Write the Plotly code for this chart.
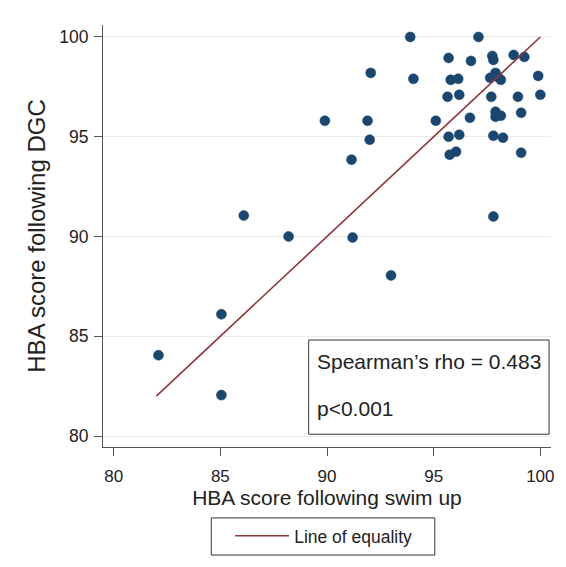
import plotly.graph_objects as go

# HBA scores (swim up, DGC)
swim_up = [93.9, 97.1, 95.7, 96.75, 97.75, 97.8, 98.75, 99.25, 92.05, 94.05,
           95.8, 96.15, 97.65, 97.9, 98.15, 98.0, 99.9, 100.0, 95.65, 96.2,
           97.7, 98.95, 89.9, 91.9, 92.0, 95.1, 96.7, 97.9, 97.9, 98.15,
           99.1, 95.7, 96.2, 97.8, 98.25, 91.15, 95.75, 96.05, 99.1, 86.1,
           97.8, 88.2, 91.2, 93.0, 85.05, 82.1, 85.05]
dgc = [100.0, 100.0, 98.95, 98.8, 99.05, 98.85, 99.1, 99.0, 98.2, 97.9,
       97.85, 97.9, 97.95, 98.2, 97.85, 98.0, 98.05, 97.1, 97.0, 97.1,
       97.0, 97.0, 95.8, 95.8, 94.85, 95.8, 95.95, 96.25, 96.0, 96.05,
       96.2, 95.0, 95.1, 95.05, 94.95, 93.85, 94.1, 94.25, 94.2, 91.05,
       91.0, 90.0, 89.95, 88.05, 86.1, 84.05, 82.05]

equality_x = [82, 100]
equality_y = [82, 100]

x_ticks = [80, 85, 90, 95, 100]
y_ticks = [80, 85, 90, 95, 100]

stats_text = ["Spearman\u2019s rho = 0.483", "p<0.001"]

FONT = "Liberation Sans, Arial, sans-serif"
NAVY = "#1a476f"
MAROON = "#90353b"

fig = go.Figure()
fig.add_trace(go.Scatter(
    x=swim_up, y=dgc, mode="markers",
    marker=dict(color=NAVY, size=10, line=dict(color=NAVY, width=0.5)),
    showlegend=False, hoverinfo="x+y"))
fig.add_trace(go.Scatter(
    x=equality_x, y=equality_y, mode="lines",
    line=dict(color=MAROON, width=1.6),
    name="Line of equality", showlegend=True))

fig.update_layout(
    width=566, height=567,
    margin=dict(l=103, r=12, t=25, b=120),
    paper_bgcolor="white", plot_bgcolor="white",
    font=dict(family=FONT, color="#222"),
    legend=dict(orientation="h", x=0.2838, xanchor="left",
                y=-0.168, yanchor="top",
                bgcolor="rgba(0,0,0,0)", borderwidth=0,
                font=dict(size=17.5, family=FONT, color="#222"),
                itemwidth=54),
)

fig.update_xaxes(
    range=[79.5, 100.5], tickvals=x_ticks,
    showgrid=False, zeroline=False,
    showline=True, linecolor="#555", linewidth=1,
    ticks="outside", ticklen=8, tickcolor="#555",
    ticklabelstandoff=6,
    tickfont=dict(size=17, family=FONT, color="#222"),
    title=dict(text="HBA score following swim up",
               font=dict(size=21, family=FONT, color="#222"), standoff=4),
)
fig.update_yaxes(
    range=[79.45, 100.6], tickvals=y_ticks,
    showgrid=True, gridcolor="#ebebeb", gridwidth=1, zeroline=False,
    showline=True, linecolor="#555", linewidth=1,
    ticks="outside", ticklen=8, tickcolor="#555",
    ticklabelstandoff=2,
    tickfont=dict(size=17.5, family=FONT, color="#222"),
    title=dict(text="HBA score following DGC",
               font=dict(size=24, family=FONT, color="#222"), standoff=6),
)

# legend frame
fig.add_shape(type="rect", xref="paper", yref="paper",
              x0=0.2417, x1=0.7406, y0=-0.256, y1=-0.168,
              line=dict(color="#333", width=1), fillcolor="rgba(0,0,0,0)")

# statistics box
fig.add_shape(type="rect", xref="x", yref="y",
              x0=89.14, x1=100.41, y0=80.09, y1=84.81,
              line=dict(color="#333", width=1), fillcolor="rgba(0,0,0,0)")
fig.add_annotation(x=89.42, y=83.72, xref="x", yref="y", text=stats_text[0],
                   showarrow=False, xanchor="left", yanchor="middle",
                   font=dict(size=21, family=FONT, color="#222"))
fig.add_annotation(x=89.42, y=81.4, xref="x", yref="y", text=stats_text[1],
                   showarrow=False, xanchor="left", yanchor="middle",
                   font=dict(size=21, family=FONT, color="#222"))

fig.write_html("out.html", config={"displayModeBar": False},
               post_script="document.body.style.margin='0';")
